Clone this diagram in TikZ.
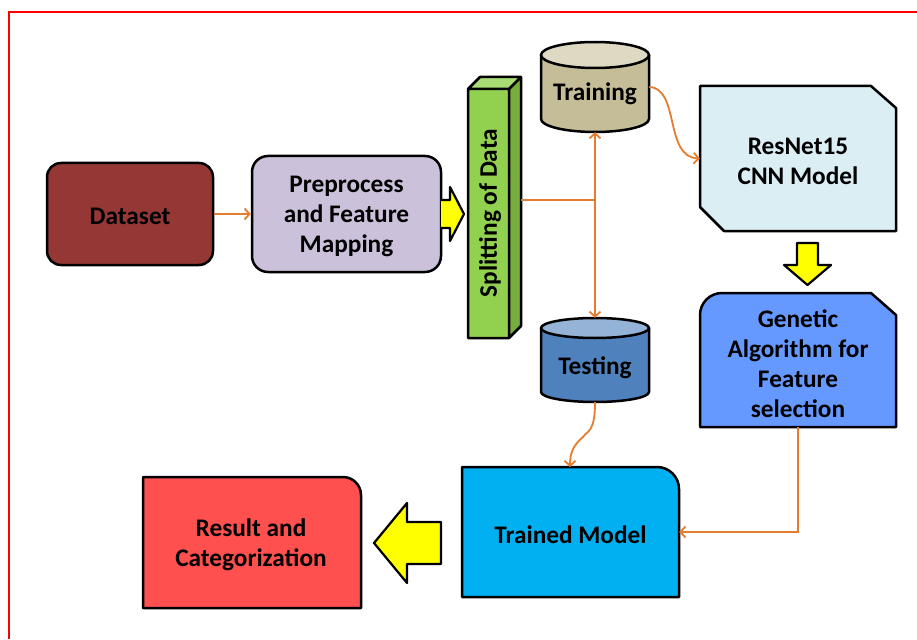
\documentclass[tikz,border=0pt]{standalone}
\usepackage{fontspec}
\setmainfont{Carlito}
\usetikzlibrary{arrows.meta,calc}
\definecolor{cData}{HTML}{953735}
\definecolor{cPre}{HTML}{CCC1DA}
\definecolor{cSplitF}{HTML}{92D050}
\definecolor{cSplitS}{HTML}{76AE3E}
\definecolor{cSplitT}{HTML}{A9DC74}
\definecolor{cTrainB}{HTML}{C4BD97}
\definecolor{cTrainT}{HTML}{DDD9C3}
\definecolor{cTestB}{HTML}{4F81BD}
\definecolor{cTestT}{HTML}{95B3D7}
\definecolor{cRes}{HTML}{DBEEF4}
\definecolor{cGen}{HTML}{6699FF}
\definecolor{cTrained}{HTML}{00B0F0}
\definecolor{cResult}{HTML}{FF5050}
\definecolor{cYellow}{HTML}{FFFF00}
\definecolor{cOrange}{HTML}{E67D2E}
\begin{document}
\begin{tikzpicture}[x=1pt,y=-1pt,
  txt/.style={font=\bfseries\fontsize{25.3}{30}\selectfont, align=center, text=black},
  outl/.style={draw=black, line width=2.5pt, line join=round},
  box/.style={outl, inner sep=0pt},
  area/.style={inner sep=0pt, draw=none},
  lbl/.style={txt, yshift=-2.5pt},
  conn/.style={draw=cOrange, line width=1.8pt, -{Straight Barb[length=5pt,width=11pt,line width=1.8pt]}},
  plain/.style={draw=cOrange, line width=1.8pt},
  blockarrow/.style={outl, fill=cYellow, line width=2.2pt}]
\useasboundingbox (0,0) rectangle (917,639);
\fill[white] (0,0) rectangle (917,639);
\draw[red, line width=2.2pt] (9,639) -- (9,12) -- (917,12);

% Dataset and Preprocess
\node[box, fill=cData, rounded corners=14pt, minimum width=166pt, minimum height=102pt,
  label={[lbl]center:Dataset}] (data) at (130,214) {};
\node[box, fill=cPre, rounded corners=16pt, minimum width=189pt, minimum height=116pt,
  label={[lbl]center:{Preprocess\\and Feature\\Mapping}}] (pre) at (346.5,214) {};

% Yellow arrow to splitting
\draw[blockarrow] (441,200) -- (450,200) -- (450,187) -- (464,214) -- (450,241) -- (450,228) -- (441,228);

% Splitting bar
\fill[cSplitT] (468,89) -- (480,77) -- (521,77) -- (509,89) -- cycle;
\fill[cSplitS] (509,89) -- (521,77) -- (521,326) -- (509,338) -- cycle;
\node[area, fill=cSplitF, minimum width=41pt, minimum height=249pt] (split) at (488.5,213.5) {};
\draw[outl] (468,89) -- (480,77) -- (521,77) -- (521,326) -- (509,338) -- (468,338) -- cycle
  (468,89) -- (509,89) -- (521,77) (509,89) -- (509,338);
\node[txt, rotate=90] at (490,213) {Splitting of Data};

% Training cylinder
\node[area, minimum width=108pt, minimum height=90pt] (train) at (595,87) {};
\draw[outl, fill=cTrainB] (541,55) -- (541,119) arc[start angle=180, end angle=360, x radius=54pt, y radius=13pt] -- (649,55) -- cycle;
\draw[outl, fill=cTrainT] (595,55) ellipse[x radius=54pt, y radius=13pt];
\node[lbl] at (595,91) {Training};

% Testing cylinder
\node[area, minimum width=108pt, minimum height=84pt] (test) at (595,360) {};
\draw[outl, fill=cTestB] (541,328) -- (541,392) arc[start angle=180, end angle=360, x radius=54pt, y radius=10pt] -- (649,328) -- cycle;
\draw[outl, fill=cTestT] (595,328) ellipse[x radius=54pt, y radius=10pt];
\node[lbl] at (595,365) {Testing};

% ResNet box
\draw[outl, fill=cRes] (700,86) -- (871,86) -- (896,108) -- (896,231) -- (724,231) -- (700,207) -- cycle;
\node[area, minimum width=196pt, minimum height=145pt, label={[lbl]center:{ResNet15\\CNN Model}}] (res) at (798,158.5) {};

% yellow down arrow
\draw[blockarrow] (797,243) -- (818,243) -- (818,265) -- (831,265) -- (807.5,285) -- (784,265) -- (797,265) -- cycle;

% Genetic box
\draw[outl, fill=cGen] (700,427) -- (700,315) .. controls (700,302.85) and (709.85,293) .. (722,293) -- (871,293) -- (896,315) -- (896,427) -- cycle;
\node[area, minimum width=196pt, minimum height=134pt, label={[lbl, yshift=-1.5pt]center:{Genetic\\Algorithm for\\Feature\\selection}}] (gen) at (798,360) {};

% Trained model
\draw[outl, fill=cTrained] (462,597) -- (462,467) -- (657,467) .. controls (669.15,467) and (679,476.85) .. (679,489) -- (679,597) -- cycle;
\node[area, minimum width=217pt, minimum height=130pt, label={[lbl]center:Trained Model}] (trained) at (570.5,532) {};

% Result
\draw[outl, fill=cResult] (143,608) -- (143,477) -- (343,477) .. controls (352.94,477) and (361,485.06) .. (361,495) -- (361,608) -- cycle;
\node[area, minimum width=218pt, minimum height=131pt, label={[lbl]center:{Result and\\Categorization}}] (result) at (251,542.5) {};

% yellow left arrow
\draw[blockarrow] (441,522) -- (407,522) -- (407,503) -- (374,543) -- (407,583) -- (407,564) -- (441,564) -- cycle;

% connectors
\draw[conn] (data.east) -- (pre.west);
\coordinate (splitout) at (521,200);
\coordinate (fork) at (595,200);
\draw[plain] (splitout) -- (fork);
\draw[conn] (fork) -- (train.south);
\draw[conn] (fork) -- (test.north);
\draw[conn] (train.east) .. controls (680,88) and (664,157) .. (res.west);
\draw[conn] (test.south) .. controls (595,432) and (588,430) .. (583,437) .. controls (572,446) and (570,455) .. (570,467);
\draw[conn] (gen.south) |- (trained.east);
\end{tikzpicture}
\end{document}
